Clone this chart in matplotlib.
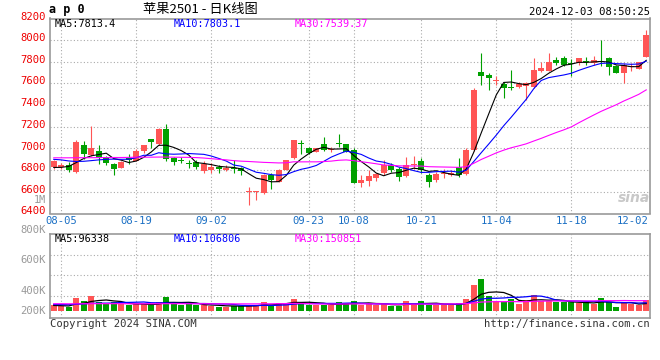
import numpy as np
import pandas as pd
import matplotlib
matplotlib.use('Agg')
import matplotlib.pyplot as plt

plt.rcParams['font.family'] = ['DejaVu Sans Mono', 'Noto Sans CJK SC']

# 交易日 (2024-08-02 ~ 2024-12-02)
holidays = ['2024-09-16', '2024-09-17', '2024-10-01', '2024-10-02',
            '2024-10-03', '2024-10-04', '2024-10-07']
days = pd.bdate_range('2024-08-02', '2024-12-02')
days = days[~days.isin(pd.to_datetime(holidays))]
dates = [d.strftime('%m-%d') for d in days]

tick_labels = ['08-05', '08-19', '09-02', '09-23', '10-08', '10-21', '11-04', '11-18', '12-02']

# OHLC (price)
opens = [6830, 6825, 6852, 6785, 7030, 6940, 6980, 6918, 6855, 6823,
         6915, 6885, 6980, 7085, 7040, 7178, 6915, 6898, 6860, 6878,
         6795, 6800, 6830, 6800, 6818, 6820, 6600, 6595, 6585, 6755,
         6692, 6800, 6910, 7042, 7006, 6970, 7037, 6990, 7048, 7037,
         6985, 6685, 6702, 6730, 6778, 6852, 6809, 6748, 6850, 6883,
         6754, 6708, 6765, 6755, 6831, 6760, 6985, 7708, 7683, 7620,
         7594, 7565, 7569, 7578, 7569, 7717, 7717, 7815, 7831, 7788,
         7785, 7802, 7785, 7805, 7831, 7760, 7698, 7752, 7738, 7846]
highs = [6890, 6870, 6877, 7078, 7065, 7210, 7030, 6935, 6870, 6880,
         6950, 6995, 7035, 7090, 7185, 7225, 6920, 6925, 6895, 6895,
         6880, 6870, 6850, 6845, 6890, 6830, 6640, 6605, 6760, 6770,
         6815, 6895, 7080, 7077, 7010, 7005, 7108, 7015, 7138, 7040,
         7000, 6755, 6806, 6770, 6892, 6868, 6831, 6923, 6932, 6910,
         6770, 6785, 6810, 6800, 6908, 7000, 7555, 7886, 7700, 7668,
         7615, 7729, 7615, 7615, 7831, 7800, 7877, 7846, 7852, 7822,
         7835, 7846, 7852, 8000, 7840, 7770, 7785, 7785, 7800, 8098]
lows = [6812, 6815, 6785, 6778, 6905, 6935, 6860, 6850, 6755, 6820,
        6855, 6880, 6958, 7000, 7030, 6880, 6850, 6862, 6818, 6812,
        6775, 6775, 6770, 6790, 6770, 6755, 6475, 6525, 6580, 6630,
        6690, 6798, 6900, 6945, 6950, 6965, 6980, 6970, 7015, 6965,
        6680, 6646, 6655, 6700, 6755, 6785, 6700, 6740, 6815, 6770,
        6646, 6692, 6725, 6745, 6740, 6755, 6980, 7585, 7540, 7585,
        7470, 7540, 7555, 7446, 7555, 7708, 7714, 7770, 7766, 7668,
        7775, 7770, 7770, 7760, 7677, 7695, 7600, 7717, 7730, 7846]
closes = [6883, 6850, 6800, 7062, 6945, 7005, 6910, 6862, 6812, 6873,
          6895, 6980, 7032, 7060, 7180, 6900, 6878, 6885, 6855, 6832,
          6860, 6825, 6808, 6820, 6812, 6792, 6605, 6600, 6755, 6710,
          6800, 6892, 7077, 7038, 6955, 7000, 6985, 6995, 7043, 6970,
          6683, 6708, 6745, 6760, 6846, 6800, 6738, 6852, 6855, 6805,
          6692, 6769, 6770, 6778, 6754, 6985, 7538, 7668, 7655, 7625,
          7563, 7558, 7594, 7606, 7729, 7745, 7800, 7791, 7775, 7782,
          7831, 7795, 7815, 7795, 7754, 7698, 7769, 7758, 7800, 8046]
# 成交量 (千手)
volume_k = [81, 63, 59, 180, 135, 207, 126, 95, 117, 95,
            81, 90, 90, 81, 122, 194, 95, 81, 95, 81,
            81, 68, 59, 59, 72, 72, 68, 81, 122, 68,
            113, 113, 162, 122, 81, 81, 81, 81, 122, 104,
            135, 81, 104, 81, 95, 68, 68, 135, 95, 135,
            81, 81, 81, 81, 108, 162, 351, 432, 207, 135,
            122, 162, 95, 149, 216, 135, 135, 117, 117, 117,
            104, 117, 90, 180, 117, 59, 117, 95, 81, 149]

# 均线起始段 (窗口不足, 从图上读)
ma5_head = [6825, 6826, 6835, 6870]
ma10_head = [6900, 6895, 6885, 6880, 6882, 6888, 6895, 6900, 6902]
ma30_head = [6914, 6914, 6914, 6915, 6915, 6915, 6916, 6916, 6917, 6917,
             6918, 6920, 6920, 6920, 6921, 6921, 6920, 6919, 6918, 6916,
             6912, 6906, 6900, 6895, 6888, 6883, 6880, 6876, 6872]
vma5_head = [75, 72, 68, 96]
vma10_head = [88, 86, 85, 92, 96, 104, 106, 106, 108]
vma30_head = [98, 98, 97, 97, 98, 99, 99, 99, 99, 99,
              98, 98, 98, 98, 98, 99, 99, 99, 98, 98,
              98, 97, 97, 96, 96, 96, 96, 96, 97]


def moving_avg(values, n, head):
    out = pd.Series(values, dtype=float).rolling(n).mean().to_numpy()
    out[:n - 1] = head
    return out


RED = '#FF5555'
GREEN = '#00A000'
GRID = '#AAAAAA'
BORDER = '#999999'

W, H = 660, 360
fig = plt.figure(figsize=(6.6, 3.6), dpi=100)
fig.patch.set_facecolor('white')


def box(l, t, r, b):
    return [l / W, 1 - b / H, (r - l) / W, (b - t) / H]


def ftext(x, y, s, **kw):
    kw.setdefault('va', 'center')
    kw.setdefault('fontsize', 7.3)
    fig.text(x / W, 1 - y / H, s, **kw)


ax = fig.add_axes(box(50, 18.5, 650, 213.5))
axv = fig.add_axes(box(50, 234, 650, 318))

x = np.arange(len(dates))
o = np.array(opens, float)
c = np.array(closes, float)
up = c >= o
colors = np.where(up, RED, GREEN)

# K线
ax.vlines(x, lows, highs, colors=colors, lw=0.8, zorder=2)
ax.bar(x, np.maximum(np.abs(c - o), 9), bottom=np.minimum(o, c), width=0.76,
       color=colors, lw=0, zorder=3)
ax.plot(x, moving_avg(closes, 5, ma5_head), color='black', lw=0.8, zorder=4)
ax.plot(x, moving_avg(closes, 10, ma10_head), color='#0000FF', lw=0.8, zorder=4)
ax.plot(x, moving_avg(closes, 30, ma30_head), color='#FF00FF', lw=0.8, zorder=4)

# 成交量
axv.bar(x, volume_k, width=0.76, color=colors, lw=0, zorder=2)
axv.plot(x, moving_avg(volume_k, 5, vma5_head), color='black', lw=0.9, zorder=3)
axv.plot(x, moving_avg(volume_k, 10, vma10_head), color='#0000FF', lw=0.9, zorder=3)
axv.plot(x, moving_avg(volume_k, 30, vma30_head), color='#FF00FF', lw=0.9, zorder=3)

tick_pos = [dates.index(t) for t in tick_labels]
k_per_px = 13.5
for a in (ax, axv):
    a.set_xlim(-0.5, len(dates) - 0.5)
    a.set_xticks(tick_pos[:-1])
    a.tick_params(length=0, labelbottom=False, labelleft=False)
    a.grid(True, color=GRID, lw=0.8, ls=(0, (1, 2)), zorder=0)
    for s in a.spines.values():
        s.set_color(BORDER)
        s.set_linewidth(1.2)

ax.set_ylim(6400, 8200)
ax.set_yticks(range(6600, 8001, 200))
axv.set_ylim(-7 * k_per_px, 77 * k_per_px)
axv.set_yticks([(311 - yp) * k_per_px for yp in (295.7, 275, 255)])

# 价格刻度
for p in range(6400, 8201, 200):
    yp = 18.5 + (8200 - p) / 1800 * 195 - 2
    ftext(46, yp, str(p), ha='right', color='#EE0000', fontsize=7.6)
ftext(46, 200, '1M', ha='right', color='#999999')
for lab, yp in zip(['800K', '600K', '400K', '200K'], [230, 260, 291, 311]):
    ftext(46, yp, lab, ha='right', color='#999999', fontsize=7.6)

# 日期
for t, pos in zip(tick_labels, tick_pos):
    px = 53.75 + 7.5 * pos
    if t == tick_labels[-1]:
        ftext(649, 221, t, ha='right', color='#1A6FC4', fontsize=7.6)
    else:
        ftext(px, 221, t, ha='center', color='#1A6FC4', fontsize=7.6)

# 标题与图例
ftext(49, 9, 'a p 0', ha='left', fontweight='bold', fontsize=8.5)
ftext(200, 9, '苹果2501 - 日K线图', ha='center', fontsize=9.5,
      family=['Noto Sans CJK SC', 'DejaVu Sans'])
ftext(650, 12, '2024-12-03 08:50:25', ha='right', fontsize=7.6)

ftext(55, 24, 'MA5:7813.4', ha='left')
ftext(174, 24, 'MA10:7803.1', ha='left', color='#0000FF')
ftext(295, 24, 'MA30:7539.37', ha='left', color='#FF00FF')
ftext(55, 238.5, 'MA5:96338', ha='left')
ftext(174, 238.5, 'MA10:106806', ha='left', color='#0000FF')
ftext(295, 238.5, 'MA30:150851', ha='left', color='#FF00FF')

ftext(50, 324, 'Copyright 2024 SINA.COM', ha='left', color='#333333', fontsize=7.6)
ftext(650, 324, 'http://finance.sina.com.cn', ha='right', color='#333333', fontsize=7.6)

# 水印
ftext(634, 198, 'sina', ha='center', color='#C8C8C8', fontsize=10,
      fontstyle='italic', fontweight='bold', family='DejaVu Sans')

fig.savefig('out.png', dpi=100, facecolor='white')
